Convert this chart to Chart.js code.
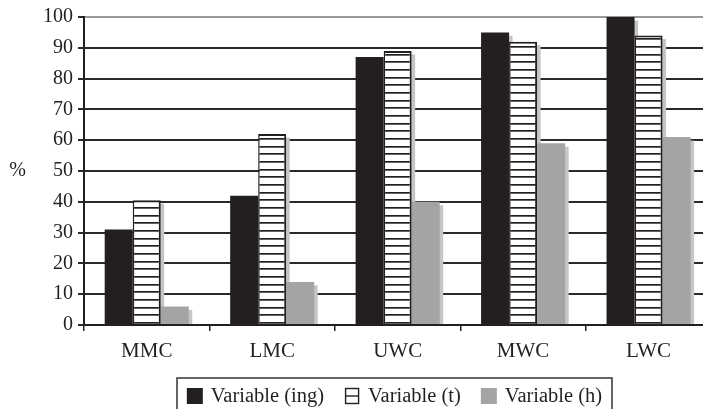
<!DOCTYPE html>
<html>
<head>
<meta charset="utf-8">
<script src="https://cdn.jsdelivr.net/npm/chart.js@4/dist/chart.umd.min.js"></script>
<style>
  html, body { margin: 0; padding: 0; background: #fff; overflow: hidden; }
  canvas { display: block; }
</style>
</head>
<body>
<canvas id="c" width="716" height="409"></canvas>
<script>
// Data
const categories = ['MMC', 'LMC', 'UWC', 'MWC', 'LWC'];
const seriesNames = ['Variable (ing)', 'Variable (t)', 'Variable (h)'];
const valuesIng = [31, 42, 87, 95, 100];
const valuesT = [40.5, 62, 89, 92, 94];
const valuesH = [6, 14, 40, 59, 61];
const yTicks = [0, 10, 20, 30, 40, 50, 60, 70, 80, 90, 100];
const yUnit = '%';

const FONT = 'Liberation Serif, Times New Roman, serif';
const INK = '#231f20';
const GREY = '#a4a4a6';
const SHADOW = '#c6c6c6';

// Horizontal hatch fill for the middle series
function hatchPattern() {
  const c = document.createElement('canvas');
  c.width = 10; c.height = 23;
  const g = c.getContext('2d');
  g.fillStyle = '#fff';
  g.fillRect(0, 0, 10, 23);
  g.fillStyle = INK;
  [0, 8, 15].forEach(y => g.fillRect(0, y, 10, 1.7));
  return g.createPattern(c, 'repeat');
}
const hatch = hatchPattern();

// Offset drop shadow behind each bar
const barShadow = {
  id: 'barShadow',
  beforeDatasetsDraw(chart) {
    const ctx = chart.ctx;
    ctx.save();
    ctx.fillStyle = SHADOW;
    chart.data.datasets.forEach((ds, i) => {
      chart.getDatasetMeta(i).data.forEach(el => {
        const p = el.getProps(['x', 'y', 'base', 'width'], true);
        const off = 3.5;
        ctx.fillRect(p.x - p.width / 2 + off, p.y + off, p.width, p.base - p.y - off);
      });
    });
    ctx.restore();
  }
};

// Unit label and framed legend
const decorations = {
  id: 'decorations',
  afterDraw(chart) {
    const ctx = chart.ctx;
    const yScale = chart.scales.y;
    ctx.save();
    ctx.fillStyle = INK;
    ctx.font = '20px ' + FONT;
    ctx.textAlign = 'center';
    ctx.textBaseline = 'middle';
    ctx.fillText(yUnit, 17.5, yScale.getPixelForValue(50));

    // legend frame
    const fx0 = 177, fx1 = 612, fy0 = 378;
    ctx.strokeStyle = '#333';
    ctx.lineWidth = 1.5;
    ctx.strokeRect(fx0, fy0, fx1 - fx0, 60);

    ctx.font = '20.5px ' + FONT;
    ctx.textAlign = 'left';
    ctx.textBaseline = 'alphabetic';
    const box = 16, gapTxt = 8, gapItem = 20;
    const widths = seriesNames.map(s => ctx.measureText(s).width);
    const total = widths.reduce((a, b) => a + b, 0) + seriesNames.length * (box + gapTxt) + gapItem * (seriesNames.length - 1);
    let x = fx0 + (fx1 - fx0 - total) / 2;
    const by = 388;
    chart.data.datasets.forEach((ds, i) => {
      if (i === 0) {
        ctx.fillStyle = INK;
        ctx.fillRect(x, by, box, box);
      } else if (i === 1) {
        ctx.fillStyle = '#fff';
        ctx.fillRect(x + 1, by, box - 2, box);
        ctx.strokeStyle = INK;
        ctx.lineWidth = 1.4;
        ctx.strokeRect(x + 1.5, by + 0.5, box - 3, box - 1);
        ctx.beginPath();
        ctx.moveTo(x + 1.5, by + box / 2);
        ctx.lineTo(x + box - 1.5, by + box / 2);
        ctx.stroke();
      } else {
        ctx.fillStyle = GREY;
        ctx.fillRect(x, by, box, box);
      }
      x += box + gapTxt;
      ctx.fillStyle = INK;
      ctx.fillText(ds.label, x, 402);
      x += widths[i] + gapItem;
    });
    ctx.restore();
  }
};

new Chart(document.getElementById('c'), {
  type: 'bar',
  data: {
    labels: categories,
    datasets: [
      { label: seriesNames[0], data: valuesIng, backgroundColor: INK, borderWidth: 0 },
      { label: seriesNames[1], data: valuesT, backgroundColor: hatch, borderColor: INK,
        borderWidth: { top: 2, left: 1.5, right: 2, bottom: 0 }, borderSkipped: 'start' },
      { label: seriesNames[2], data: valuesH, backgroundColor: GREY, borderWidth: 0 }
    ]
  },
  options: {
    responsive: false,
    animation: false,
    devicePixelRatio: 1,
    layout: { padding: { top: 14.5, right: 4.7, left: 0, bottom: 0 } },
    datasets: { bar: { categoryPercentage: 0.67, barPercentage: 1 } },
    plugins: { legend: { display: false }, tooltip: { enabled: false } },
    scales: {
      x: {
        afterFit(s) { s.height = 84; },
        grid: { display: true, drawOnChartArea: false, drawTicks: true, tickLength: 6,
                tickColor: INK, lineWidth: 1.5, offset: true },
        border: { display: true, color: INK, width: 2 },
        ticks: { color: INK, font: { family: FONT, size: 21 }, padding: 8, maxRotation: 0 }
      },
      y: {
        min: 0, max: 100,
        afterFit(s) { s.width = 84; },
        afterBuildTicks(s) { s.ticks = yTicks.map(v => ({ value: v })); },
        grid: {
          color: c => (c.tick && c.tick.value === 100) ? '#9a9a9a' : '#2a2a2a',
          lineWidth: 2, drawTicks: true, tickLength: 6, tickColor: '#2a2a2a'
        },
        border: { display: true, color: INK, width: 2 },
        ticks: { color: INK, font: { family: FONT, size: 20 }, padding: 5 }
      }
    }
  },
  plugins: [barShadow, decorations]
});
</script>
</body>
</html>
